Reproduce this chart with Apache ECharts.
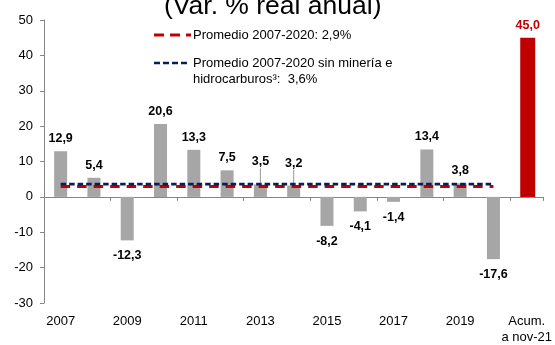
<!DOCTYPE html>
<html>
<head>
<meta charset="utf-8">
<script src="https://cdn.jsdelivr.net/npm/echarts@6/dist/echarts.min.js"></script>
<style>
  html, body { margin: 0; padding: 0; background: #fff; }
  #chart { width: 555px; height: 345px; }
</style>
</head>
<body>
<div id="chart"></div>
<script>
// Annual real growth (%), 2007-2020, plus the accumulated figure to Nov-21
const years = ['2007', '2008', '2009', '2010', '2011', '2012', '2013',
               '2014', '2015', '2016', '2017', '2018', '2019', '2020'];
const accumulatedLabel = 'Acum.\na nov-21';
const yearlyGrowth = [12.9, 5.4, -12.3, 20.6, 13.3, 7.5, 3.5,
                      3.2, -8.2, -4.1, -1.4, 13.4, 3.8, -17.6];
const accumulatedGrowth = 45.0;

// Period averages
const avgTotal = 2.9;        // Promedio 2007-2020
const avgNonMining = 3.6;    // Promedio sin minería e hidrocarburos

// Value axis
const yMin = -30;
const yMax = 50;
const yStep = 10;

// Labels lifted above their bars, joined back with a guide line
const liftedLabelYears = ['2013', '2014'];

const categories = years.concat([accumulatedLabel]);
const fmt = v => v.toFixed(1).replace('.', ',');
const FONT = "'Liberation Sans', Arial, sans-serif";
const AXIS_GRAY = '#868686';

const grayData = yearlyGrowth.map((v, i) => ({
  value: v,
  label: { position: v >= 0 ? 'top' : 'bottom', distance: v >= 0 ? 6 : 9 },
  labelLine: { show: liftedLabelYears.includes(years[i]) }
})).concat(['-']);
const redData = years.map(() => '-').concat([{
  value: accumulatedGrowth,
  label: { position: 'top', distance: 6 }
}]);
const avgLine = avg => years.map(() => avg).concat(['-']);

const chart = echarts.init(document.getElementById('chart'), null, { renderer: 'canvas' });

chart.setOption({
  animation: false,
  backgroundColor: '#fff',
  title: {
    text: '(Var. % real anual)',
    left: 159,
    top: -12,
    textStyle: { fontFamily: FONT, fontSize: 26.5, fontWeight: 'normal', color: '#000' }
  },
  grid: { left: 44, right: 11, top: 20, bottom: 38, containLabel: false },
  xAxis: [
    {
      type: 'category',
      data: categories,
      boundaryGap: true,
      axisLine: { onZero: true, lineStyle: { color: AXIS_GRAY, width: 1 } },
      axisTick: { show: true, alignWithLabel: false, length: 4, lineStyle: { color: AXIS_GRAY } },
      axisLabel: { show: false },
      splitLine: { show: false }
    },
    {
      type: 'category',
      data: categories,
      position: 'bottom',
      boundaryGap: true,
      axisLine: { show: false, onZero: false },
      axisTick: { show: false },
      axisLabel: {
        interval: 1,
        margin: 10,
        fontFamily: FONT,
        fontSize: 13,
        color: '#000',
        lineHeight: 16
      },
      splitLine: { show: false }
    }
  ],
  yAxis: {
    type: 'value',
    min: yMin,
    max: yMax,
    interval: yStep,
    axisLine: { show: true, lineStyle: { color: AXIS_GRAY, width: 1 } },
    axisTick: { show: true, length: 4, lineStyle: { color: AXIS_GRAY } },
    axisLabel: { margin: 11, fontFamily: FONT, fontSize: 13, color: '#000' },
    splitLine: { show: false }
  },
  series: [
    {
      name: accumulatedLabel,
      type: 'bar',
      xAxisIndex: 0,
      data: redData,
      barWidth: 15,
      barGap: '-100%',
      itemStyle: { color: '#C00000' },
      label: {
        show: true,
        formatter: p => fmt(p.value),
        fontFamily: FONT,
        fontSize: 12.5,
        fontWeight: 'bold',
        color: '#C00000'
      }
    },
    {
      name: 'Crecimiento anual',
      type: 'bar',
      xAxisIndex: 0,
      data: grayData,
      barWidth: 13,
      barGap: '-100%',
      itemStyle: { color: '#A6A6A6' },
      label: {
        show: true,
        formatter: p => fmt(p.value),
        fontFamily: FONT,
        fontSize: 12.5,
        fontWeight: 'bold',
        color: '#000'
      },
      labelLine: { show: false, length2: 0, lineStyle: { color: '#7F7F7F', width: 0.8 } },
      labelLayout: p => liftedLabelYears.includes(categories[p.dataIndex]) ? { dy: -10 } : {}
    },
    {
      name: 'Promedio 2007-2020',
      type: 'line',
      xAxisIndex: 0,
      data: avgLine(avgTotal),
      symbol: 'none',
      lineStyle: { color: '#C00000', width: 3, type: [9.5, 7] },
      z: 3
    },
    {
      name: 'Promedio 2007-2020 sin minería e hidrocarburos',
      type: 'line',
      xAxisIndex: 0,
      data: avgLine(avgNonMining),
      symbol: 'none',
      lineStyle: { color: '#002060', width: 2.7, type: [5.5, 3] },
      z: 4
    }
  ],
  graphic: [
    {
      type: 'line',
      shape: { x1: 154, y1: 35, x2: 191, y2: 35 },
      style: { stroke: '#C00000', lineWidth: 3, lineDash: [10, 6] }
    },
    {
      type: 'text',
      x: 193, y: 35,
      style: {
        text: 'Promedio 2007-2020: ' + fmt(avgTotal) + '%',
        font: '13px ' + FONT,
        fill: '#000',
        verticalAlign: 'middle',
        textVerticalAlign: 'middle'
      }
    },
    {
      type: 'line',
      shape: { x1: 154, y1: 63, x2: 190, y2: 63 },
      style: { stroke: '#002060', lineWidth: 2.7, lineDash: [6, 3] }
    },
    {
      type: 'text',
      x: 193, y: 63,
      style: {
        text: 'Promedio 2007-2020 sin minería e',
        font: '13px ' + FONT,
        fill: '#000',
        verticalAlign: 'middle',
        textVerticalAlign: 'middle'
      }
    },
    {
      type: 'text',
      x: 193, y: 79,
      style: {
        text: 'hidrocarburos³:  ' + fmt(avgNonMining) + '%',
        font: '13px ' + FONT,
        fill: '#000',
        verticalAlign: 'middle',
        textVerticalAlign: 'middle'
      }
    }
  ]
});
</script>
</body>
</html>
